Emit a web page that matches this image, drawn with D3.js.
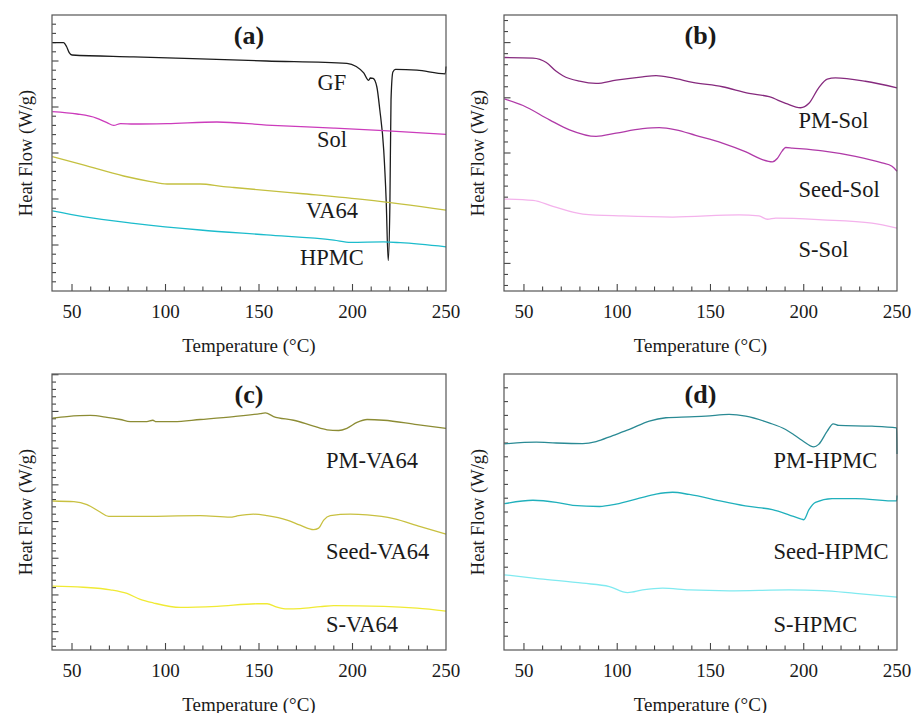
<!DOCTYPE html>
<html>
<head>
<meta charset="utf-8">
<script src="https://cdn.jsdelivr.net/npm/d3@7"></script>
<style>
  body { margin: 0; background: #fff; }
  text { font-family: "Liberation Serif", "Times New Roman", serif; fill: #1a1a1a; }
</style>
</head>
<body>
<div id="container"></div>
<script>
/* CONSTANTS AND GLOBALS */
const width = 915,
  height = 713;

/* DATA: [temperature (°C), heat flow (relative units, 1 = one y minor tick)] */
const panelTitles = ["(a)", "(b)", "(c)", "(d)"];
const xTickLabels = [50, 100, 150, 200, 250];
const xLabel = "Temperature (°C)";
const yLabel = "Heat Flow (W/g)";

// panel (a)
const namesA = ["GF", "Sol", "VA64", "HPMC"];
const gf = [[39.5,27.0],[45.5,27.0],[47,26.6],[48.5,25.9],[50,25.65],[83,25.45],[154,25.0],[197,24.75],[202,24.4],[206,23.7],[208.6,22.9],[209.6,23.15],[211,23.1],[213,22.2],[214.6,19.7],[216.7,15.3],[218,9.9],[219.1,3.3],[220,9.5],[220.6,20.8],[221.6,23.8],[223,24.1],[234.5,24.0],[249.6,23.6],[250,24.4]];
const sol = [[39.5,19.5],[52.7,19.24],[63,18.8],[68.7,18.3],[72.3,18.0],[76,18.2],[83,18.15],[100.8,18.2],[127.5,18.37],[154,18.04],[190,17.7],[216.7,17.43],[250,17.03]];
const va64 = [[39.5,14.6],[56,13.7],[77.6,12.5],[92,11.9],[100.8,11.63],[118.6,11.63],[131,11.34],[136.5,11.25],[172,10.6],[207.7,9.9],[250,8.8]];
const hpmc = [[39.5,8.7],[56,8.08],[83,7.36],[118.6,6.63],[154,6.1],[190,5.54],[199,5.29],[216.7,5.33],[225.6,5.25],[250,4.8]];

// panel (b)
const namesB = ["PM-Sol", "Seed-Sol", "S-Sol"];
const pmSol = [[39.5,21.15],[54.8,21.1],[62,20.7],[67.3,19.9],[70.9,19.5],[79.8,19.0],[88.7,18.8],[99.4,19.1],[113.6,19.4],[120.8,19.5],[129.7,19.3],[140.4,18.9],[156.4,18.5],[170.7,17.9],[181.4,17.6],[190.3,17.0],[198.3,16.6],[202.8,17.0],[208,18.4],[212.6,19.2],[217,19.3],[233,19.0],[250,18.4]];
const seedSol = [[39.5,17.4],[49.5,16.8],[63.7,15.5],[74.4,14.6],[88.7,14.0],[99.4,14.3],[113.6,14.7],[122.5,14.8],[131.5,14.6],[142,14.1],[156.4,13.4],[169,12.6],[177.8,11.9],[183.2,11.7],[185.8,12.0],[188.5,12.7],[190.3,13.0],[193.9,12.95],[210,12.7],[227.7,12.2],[242,11.6],[247.3,11.3],[250,10.85]];
const sSol = [[39.5,8.33],[54.8,8.2],[65.5,7.67],[81.6,6.97],[102.9,6.8],[129.7,6.7],[165.3,6.9],[176,6.8],[180.5,6.5],[185,6.6],[210,6.45],[236.6,6.15],[250,5.7]];

// panel (c)
const namesC = ["PM-VA64", "Seed-VA64", "S-VA64"];
const pmVa64 = [[39.5,31.6],[47.3,31.8],[59.8,31.95],[68.7,31.7],[75.8,31.4],[81.2,31.1],[90,31.1],[93.2,31.3],[95,31.1],[104.4,31.1],[118.6,31.4],[136.5,31.8],[150.7,32.2],[153.4,32.3],[157.8,31.8],[168.5,31.3],[179.2,30.5],[186.4,30.0],[192.6,29.9],[197,30.2],[202.4,31.0],[207.8,31.4],[216.7,31.3],[234.5,30.7],[250,30.2]];
const seedVa64 = [[39.5,20.3],[51,20.2],[58,19.8],[65,18.8],[69.6,18.2],[83,18.2],[118.6,18.3],[134.7,18.1],[138,18.25],[147.1,18.5],[154.3,18.3],[165,17.7],[172,17.0],[179.2,16.4],[181.9,16.6],[184.6,17.7],[188.1,18.3],[198.8,18.5],[207.8,18.4],[222,17.9],[236.3,16.8],[250,15.8]];
const sVa64 = [[39.5,8.7],[56,8.55],[70.5,8.2],[79.4,7.7],[86.5,6.9],[93.7,6.4],[108,5.8],[127.5,5.95],[149,6.3],[154.3,6.3],[159.6,5.85],[165,5.6],[172,5.65],[182.8,5.9],[190,6.05],[216.7,5.95],[234.5,5.7],[250,5.3]];

// panel (d)
const namesD = ["PM-HPMC", "Seed-HPMC", "S-HPMC"];
const pmHpmc = [[39.5,14.94],[56.6,15.06],[67.3,15.0],[81.5,14.96],[88.7,15.1],[97.6,15.54],[106.5,15.98],[117.2,16.59],[126.1,16.83],[138.6,16.9],[147.5,16.95],[160,17.07],[168.9,16.95],[181.4,16.46],[190.3,15.98],[194.7,15.6],[199.2,15.18],[205.4,14.72],[208,14.9],[212.6,15.86],[215.8,16.39],[218.8,16.27],[236.6,16.22],[249.8,16.1],[250,14.2]];
const seedHpmc = [[39.5,10.6],[54.8,10.85],[67.3,10.7],[76.2,10.48],[90.5,10.4],[99.4,10.57],[111.9,11.0],[120.8,11.3],[129.7,11.43],[138.6,11.27],[156.4,10.77],[170.7,10.4],[183.2,10.17],[192,9.8],[198.3,9.5],[200,9.44],[202.8,10.17],[206.3,10.7],[215.2,10.97],[227.7,10.97],[249.8,10.8],[250,11.2]];
const sHpmc = [[39.5,5.45],[58.4,5.16],[81.5,4.84],[95.8,4.6],[105.6,4.16],[113.6,4.35],[124.3,4.48],[138.6,4.35],[160,4.29],[192,4.35],[210,4.3],[227.7,4.1],[250,3.83]];

/* LAYOUT (positions, colours, tick set-up) */
const panels = [
  { title: panelTitles[0], left: 52, top: 15, right: 446, bottom: 291, yMax: 30, yTick0: 0, majorEvery: 5,
    series: [gf, sol, va64, hpmc], names: namesA,
    colors: ["#1c1c1c", "#cc3cbc", "#c4c040", "#1cbccc"],
    labelAnchor: "middle", labelT: 189, labelY: [21.85, 15.65, 7.93, 2.83] },
  { title: panelTitles[1], left: 504, top: 15, right: 897, bottom: 291, yMax: 25, yTick0: 0.5, majorEvery: 5, majorOffset: 2,
    series: [pmSol, seedSol, sSol], names: namesB,
    colors: ["#862a7e", "#b03aa8", "#f4b2ec"],
    labelAnchor: "start", labelT: 197.2, labelY: [14.76, 8.5, 3.08] },
  { title: panelTitles[2], left: 52, top: 374, right: 446, bottom: 650, yMax: 37.6, yTick0: 0.5, majorEvery: 5, majorOffset: 2,
    series: [pmVa64, seedVa64, sVa64], names: namesC,
    colors: ["#8c8c34", "#c8c040", "#f0ea34"],
    labelAnchor: "start", labelT: 185.8, labelY: [24.8, 12.4, 2.45] },
  { title: panelTitles[3], left: 504, top: 374, right: 897, bottom: 650, yMax: 20, yTick0: 1, majorEvery: 0,
    series: [pmHpmc, seedHpmc, sHpmc], names: namesD,
    colors: ["#2a8a94", "#20b0bc", "#80eaf0"],
    labelAnchor: "start", labelT: 183.8, labelY: [13.2, 6.6, 1.3] }
];

/* CREATE SVG ELEMENT */
const svg = d3.select("#container")
  .append("svg")
  .attr("width", width)
  .attr("height", height);

svg.append("rect")
  .attr("width", width)
  .attr("height", height)
  .attr("fill", "#fff");

panels.forEach(drawPanel);

/* DRAW ONE PANEL */
function drawPanel(p) {
  const xScale = d3.scaleLinear()
    .domain([39.3, 250])
    .range([p.left, p.right]);

  const yScale = d3.scaleLinear()
    .domain([0, p.yMax])
    .range([p.bottom, p.top]);

  const g = svg.append("g");

  // X AXIS: inward ticks every 10 °C, labels every 50
  const xTicks = d3.range(50, 250, 10);
  g.selectAll(".xtick")
    .data(xTicks)
    .join("line")
    .attr("class", "xtick")
    .attr("x1", d => xScale(d))
    .attr("x2", d => xScale(d))
    .attr("y1", p.bottom)
    .attr("y2", d => p.bottom - (d % 50 === 0 ? 7 : 4.5))
    .attr("stroke", "#444")
    .attr("stroke-width", 1.1);

  g.selectAll(".xlab")
    .data(xTickLabels)
    .join("text")
    .attr("class", "xlab")
    .attr("x", d => xScale(d))
    .attr("y", p.bottom + 27)
    .attr("text-anchor", "middle")
    .attr("font-size", 19)
    .text(d => d);

  // Y AXIS: no labels, inward minor/major ticks
  const yTicks = d3.range(p.yTick0, p.yMax, 1).filter(v => v > 0.2);
  g.selectAll(".ytick")
    .data(yTicks)
    .join("line")
    .attr("class", "ytick")
    .attr("x1", p.left)
    .attr("x2", (d, i) => {
      const k = Math.round(d - p.yTick0) - (p.majorOffset || 0);
      const major = p.majorEvery && k % p.majorEvery === 0;
      return p.left + (major ? 6.5 : 4);
    })
    .attr("y1", d => yScale(d))
    .attr("y2", d => yScale(d))
    .attr("stroke", "#444")
    .attr("stroke-width", 1.1);

  // LINES
  const lineGen = d3.line()
    .x(d => xScale(d[0]))
    .y(d => yScale(d[1]))
    .curve(d3.curveMonotoneX);

  g.selectAll(".line")
    .data(p.series)
    .join("path")
    .attr("class", "line")
    .attr("fill", "none")
    .attr("stroke", (d, i) => p.colors[i])
    .attr("stroke-width", 1.3)
    .attr("d", d => lineGen(d));

  // FRAME
  g.append("rect")
    .attr("x", p.left)
    .attr("y", p.top)
    .attr("width", p.right - p.left)
    .attr("height", p.bottom - p.top)
    .attr("fill", "none")
    .attr("stroke", "#555")
    .attr("stroke-width", 1.2);

  // SERIES LABELS
  g.selectAll(".slab")
    .data(p.names)
    .join("text")
    .attr("class", "slab")
    .attr("x", xScale(p.labelT))
    .attr("y", (d, i) => yScale(p.labelY[i]))
    .attr("text-anchor", p.labelAnchor)
    .attr("font-size", 22.5)
    .text(d => d);

  // PANEL TITLE
  g.append("text")
    .attr("x", (p.left + p.right) / 2)
    .attr("y", p.top + 28.5)
    .attr("text-anchor", "middle")
    .attr("font-size", 26)
    .attr("font-weight", "bold")
    .text(p.title);

  // AXIS TITLES
  g.append("text")
    .attr("x", (p.left + p.right) / 2)
    .attr("y", p.bottom + 60.5)
    .attr("text-anchor", "middle")
    .attr("font-size", 19)
    .text(xLabel);

  g.append("text")
    .attr("transform", `translate(${p.left - 20},${(p.top + p.bottom) / 2}) rotate(-90)`)
    .attr("text-anchor", "middle")
    .attr("font-size", 18.5)
    .text(yLabel);
}
</script>
</body>
</html>
